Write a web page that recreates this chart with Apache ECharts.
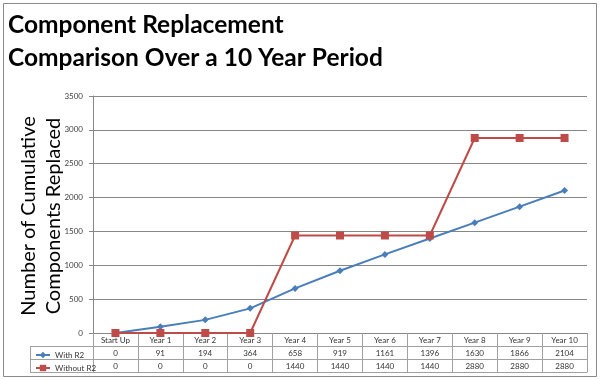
<!DOCTYPE html>
<html>
<head>
<meta charset="utf-8">
<script src="https://cdn.jsdelivr.net/npm/echarts@6/dist/echarts.min.js"></script>
<style>html,body{margin:0;padding:0;background:#fff}#c{width:600px;height:380px}</style>
</head>
<body>
<div id="c"></div>
<script>
var categories = ['Start Up','Year 1','Year 2','Year 3','Year 4','Year 5','Year 6','Year 7','Year 8','Year 9','Year 10'];
var withR2 = [0, 91, 194, 364, 658, 919, 1161, 1396, 1630, 1866, 2104];
var withoutR2 = [0, 0, 0, 0, 1440, 1440, 1440, 1440, 2880, 2880, 2880];
var seriesNames = ['With R2', 'Without R2'];
var yTicks = {min: 0, max: 3500, interval: 500};
var titleLines = ['Component Replacement', 'Comparison Over a 10 Year Period'];
var yTitleLines = ['Number of Cumulative', 'Components Replaced'];

var FONT = 'Lato';
var TABLE = '#a0a0a0';
var GRID = '#878787';
var BLUE = '#4a7ebb';
var RED = '#be4b48';
var ROW = 13;

function tableAxis(idx, values) {
  return {
    type: 'category', data: categories, position: 'bottom', offset: ROW * idx,
    boundaryGap: true,
    axisLine: {show: true, lineStyle: {color: idx === 0 ? GRID : TABLE, width: 1}},
    axisTick: {show: true, length: ROW, lineStyle: {color: TABLE}},
    axisLabel: {
      show: true, margin: 3, fontSize: 8, fontFamily: FONT, color: '#333',
      interval: 0,
      formatter: function (v, i) { return String(values[i]); }
    },
    splitLine: {show: false}
  };
}

var chart = echarts.init(document.getElementById('c'), null, {renderer: 'canvas'});
chart.setOption({
  animation: false,
  backgroundColor: '#fff',
  textStyle: {fontFamily: FONT},
  grid: {left: 93, right: 13, top: 96, bottom: 47, containLabel: false},
  legend: {
    orient: 'vertical', left: 30, top: 346, itemGap: 5, itemWidth: 14, itemHeight: 8,
    textStyle: {fontSize: 8, fontFamily: FONT, color: '#333', lineHeight: 8},
    data: seriesNames
  },
  xAxis: [
    tableAxis(0, categories),
    tableAxis(1, withR2),
    tableAxis(2, withoutR2),
    {
      type: 'category', data: categories, position: 'bottom', offset: ROW * 3,
      axisLine: {show: true, lineStyle: {color: TABLE}}, axisTick: {show: false}, axisLabel: {show: false}
    }
  ],
  yAxis: {
    type: 'value', min: yTicks.min, max: yTicks.max, interval: yTicks.interval,
    axisLine: {show: true, lineStyle: {color: GRID}},
    axisTick: {show: true, length: 4, lineStyle: {color: GRID}},
    axisLabel: {margin: 10, fontSize: 8, fontFamily: FONT, color: '#404040',
      formatter: function (v) { return String(v); }},
    splitLine: {show: true, lineStyle: {color: GRID, width: 1}}
  },
  series: [
    {
      name: seriesNames[0], type: 'line', data: withR2, xAxisIndex: 0,
      symbol: 'diamond', symbolSize: 7, showAllSymbol: true,
      itemStyle: {color: BLUE}, lineStyle: {color: BLUE, width: 2}
    },
    {
      name: seriesNames[1], type: 'line', data: withoutR2, xAxisIndex: 0,
      symbol: 'rect', symbolSize: 8, showAllSymbol: true,
      itemStyle: {color: RED}, lineStyle: {color: RED, width: 2}
    }
  ],
  graphic: [
    {type: 'rect', shape: {x: 3.5, y: 3.5, width: 593, height: 373}, style: {fill: 'none', stroke: '#8a8a8a', lineWidth: 1}, z: 0},
    {type: 'text', left: 8, top: 13, style: {text: titleLines[0], font: 'bold 24.5px Lato', fill: '#000'}},
    {type: 'text', left: 8, top: 46, style: {text: titleLines[1], font: 'bold 24.5px Lato', fill: '#000'}},
    {type: 'text', x: 41, y: 216, rotation: Math.PI / 2,
      style: {text: yTitleLines.join('\n'), font: '20px Lato', lineHeight: 25, fill: '#000', align: 'center', verticalAlign: 'middle'}},
    {type: 'line', shape: {x1: 30, y1: 346.5, x2: 93, y2: 346.5}, style: {stroke: TABLE, lineWidth: 1}},
    {type: 'line', shape: {x1: 30, y1: 359.5, x2: 93, y2: 359.5}, style: {stroke: TABLE, lineWidth: 1}},
    {type: 'line', shape: {x1: 30, y1: 372.5, x2: 93, y2: 372.5}, style: {stroke: TABLE, lineWidth: 1}},
    {type: 'line', shape: {x1: 30.5, y1: 346.5, x2: 30.5, y2: 372.5}, style: {stroke: TABLE, lineWidth: 1}}
  ]
});
</script>
</body>
</html>
